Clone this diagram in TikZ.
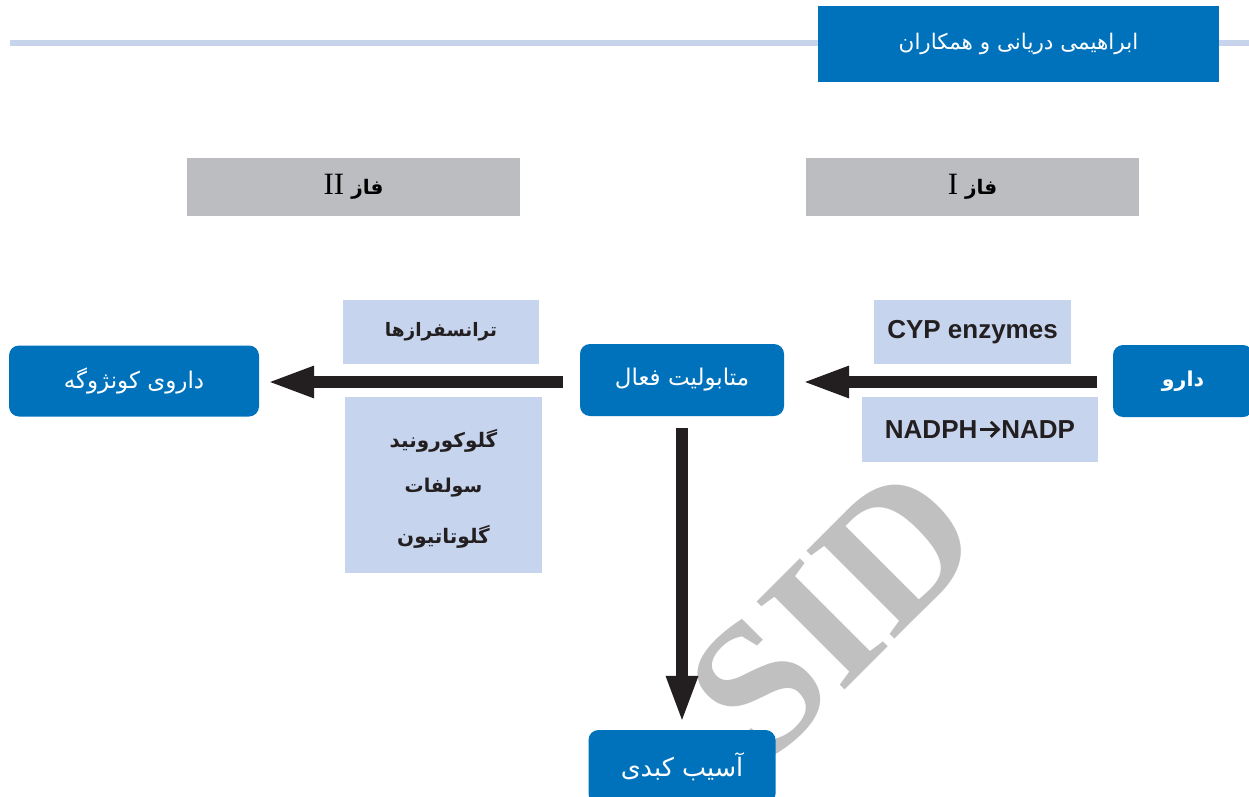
\documentclass[tikz,border=0pt]{standalone}
\usepackage{fontspec}
\usepackage{graphicx}
\usetikzlibrary{arrows.meta}
\TeXXeTstate=1
\newfontfamily\arabicfont[Script=Arabic]{DejaVu Sans}
\newfontfamily\latinsans{Liberation Sans}
\newfontfamily\serifroman{Liberation Serif}
\definecolor{mainblue}{HTML}{0072BC}
\definecolor{lightblue}{HTML}{C7D4EE}
\definecolor{phasegray}{HTML}{BCBDC0}
\definecolor{arrowdark}{HTML}{231F20}
\definecolor{ruleblue}{HTML}{C8D3EC}
\definecolor{wmgray}{HTML}{C0C0C0}
\newcommand{\reactarrow}{\tikz[baseline=0pt]{%
  \draw[draw=arrowdark, line width=2.8pt] (0pt,9.3pt) -- (18pt,9.3pt);
  \draw[draw=arrowdark, line width=2.8pt, line join=miter] (10.5pt,1.8pt) -- (18.2pt,9.3pt) -- (10.5pt,16.8pt);}}
\begin{document}
\begin{tikzpicture}[x=1pt,y=-1pt,
  bluebox/.style={fill=mainblue, rounded corners=10pt, text=white, inner sep=0pt,
    font=\arabicfont\fontsize{23}{27}\selectfont},
  headbox/.style={fill=mainblue, text=white, inner sep=0pt,
    font=\arabicfont\fontsize{21.5}{26}\selectfont},
  phasebox/.style={fill=phasegray, text=black, inner sep=0pt,
    font=\arabicfont\bfseries\fontsize{20}{24}\selectfont},
  labelbox/.style={fill=lightblue, text=arrowdark, inner sep=0pt,
    font=\arabicfont\bfseries\fontsize{18.5}{24}\selectfont},
  latinbox/.style={fill=lightblue, text=arrowdark, inner sep=0pt,
    font=\latinsans\bfseries\fontsize{26}{30}\selectfont},
  plaintext/.style={text=arrowdark, inner sep=0pt,
    font=\arabicfont\bfseries\fontsize{20}{24}\selectfont},
  bigarrow/.style={draw=arrowdark, line width=12pt,
    -{Triangle[length=44pt,width=33pt,line width=0pt,fill=arrowdark,color=arrowdark]}},
  ruleline/.style={draw=ruleblue, line width=6pt},
  watermark/.style={text=wmgray, inner sep=0pt, rotate=45,
    font=\serifroman\bfseries\fontsize{190}{190}\selectfont}
]
\useasboundingbox (0,0) rectangle (1249,797);
\fill[white] (0,0) rectangle (1249,797);

% watermark
\node[watermark] (wmark) at (834,613) {SID};

% header
\draw[ruleline] (10,43) -- (1249,43);
\node[headbox, minimum width=401pt, minimum height=76pt] (hdr) at (1018.5,44)
  {\beginR ابراهیمی دریانی و همکاران\endR};

% phase boxes
\node[phasebox, minimum width=333pt, minimum height=58pt] (ph2) at (353.5,187)
  {\beginR فاز {\serifroman\mdseries\fontsize{31}{34}\selectfont\beginL II\endL}\endR};
\node[phasebox, minimum width=333pt, minimum height=58pt] (ph1) at (972.5,187)
  {\beginR فاز {\serifroman\mdseries\fontsize{31}{34}\selectfont\beginL I\endL}\endR};

% main boxes
\node[bluebox, minimum width=250pt, minimum height=71pt] (conj) at (134,381)
  {\beginR داروی کونژوگه\endR};
\node[bluebox, minimum width=204pt, minimum height=72pt] (met) at (682,380)
  {\beginR متابولیت فعال\endR};
\node[bluebox, minimum width=140pt, minimum height=72pt, font=\arabicfont\bfseries\fontsize{20.5}{24}\selectfont] (drug) at (1183,381)
  {\beginR دارو\endR};
\node[bluebox, minimum width=187pt, minimum height=74pt, font=\arabicfont\fontsize{25.5}{29}\selectfont] (liver) at (682,767)
  {\beginR آسیب کبدی\endR};

% label boxes
\node[labelbox, minimum width=196pt, minimum height=64pt] (trans) at (441,332)
  {\beginR ترانسفرازها\endR};
\node[labelbox, minimum width=197pt, minimum height=176pt] (ctypes) at (443.5,485) {};
\node[plaintext] (ct1) at (443.5,441) {\beginR گلوکورونید\endR};
\node[plaintext, font=\arabicfont\bfseries\fontsize{19}{24}\selectfont] (ct2) at (443.5,488) {\beginR سولفات\endR};
\node[plaintext] (ct3) at (443.5,537) {\beginR گلوتاتیون\endR};
\node[latinbox, minimum width=197pt, minimum height=64pt] (cyp) at (972.5,332)
  {CYP enzymes};
\node[latinbox, minimum width=236pt, minimum height=65pt] (nadph) at (980,429.5)
  {NADPH\kern1.5pt\reactarrow\kern1.5pt NADP};

% arrows
\draw[bigarrow] ([xshift=-16pt,yshift=-1pt]drug.west) -- ([xshift=21pt,yshift=-2pt]met.east);
\draw[bigarrow] ([xshift=-17pt,yshift=-2pt]met.west) -- ([xshift=11pt,yshift=-1pt]conj.east);
\draw[bigarrow] ([yshift=-12pt]met.south) -- ([yshift=10pt]liver.north);
\end{tikzpicture}
\end{document}
